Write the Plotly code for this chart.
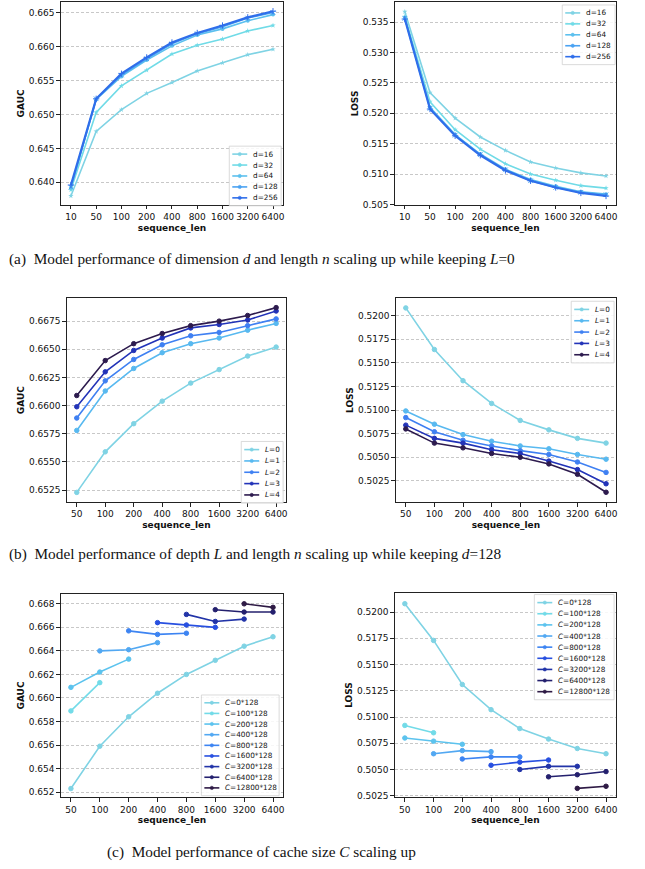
import plotly.graph_objects as go

W, H = 645, 869

# ---------------- data ----------------
seq_a = ["10", "50", "100", "200", "400", "800", "1600", "3200", "6400"]
seq_bc = ["50", "100", "200", "400", "800", "1600", "3200", "6400"]

d_labels = ["d=16", "d=32", "d=64", "d=128", "d=256"]
d_gauc = [
    [0.6380, 0.6475, 0.6507, 0.6531, 0.6547, 0.6564, 0.6576, 0.6588, 0.6596],
    [0.6389, 0.6503, 0.6542, 0.6565, 0.6589, 0.6602, 0.6611, 0.6623, 0.6631],
    [0.6392, 0.6522, 0.6556, 0.6580, 0.6601, 0.6617, 0.6626, 0.6638, 0.6647],
    [0.6393, 0.6523, 0.6558, 0.6582, 0.6604, 0.6619, 0.6629, 0.6642, 0.6650],
    [0.6396, 0.6523, 0.6560, 0.6584, 0.6606, 0.6620, 0.6631, 0.6643, 0.6652],
]
d_loss = [
    [0.5367, 0.5234, 0.5192, 0.5161, 0.5139, 0.5120, 0.5110, 0.5102, 0.5097],
    [0.5359, 0.5219, 0.5173, 0.5141, 0.5117, 0.5100, 0.5090, 0.5081, 0.5077],
    [0.5357, 0.5210, 0.5165, 0.5133, 0.5108, 0.5091, 0.5080, 0.5071, 0.5067],
    [0.5356, 0.5208, 0.5164, 0.5132, 0.5107, 0.5089, 0.5078, 0.5070, 0.5066],
    [0.5355, 0.5207, 0.5163, 0.5131, 0.5106, 0.5089, 0.5078, 0.5069, 0.5064],
]

l_labels = ["<i>L</i>=0", "<i>L</i>=1", "<i>L</i>=2", "<i>L</i>=3", "<i>L</i>=4"]
l_gauc = [
    [0.6523, 0.6559, 0.6584, 0.6604, 0.6620, 0.6632, 0.6644, 0.6652],
    [0.6578, 0.6613, 0.6633, 0.6647, 0.6655, 0.6660, 0.6667, 0.6673],
    [0.6589, 0.6622, 0.6641, 0.6654, 0.6662, 0.6665, 0.6671, 0.6677],
    [0.6599, 0.6630, 0.6649, 0.6660, 0.6669, 0.6672, 0.6676, 0.6684],
    [0.6609, 0.6640, 0.6655, 0.6664, 0.6671, 0.6675, 0.6680, 0.6687],
]
l_loss = [
    [0.5208, 0.5164, 0.5131, 0.5107, 0.5089, 0.5079, 0.5070, 0.5065],
    [0.5099, 0.5085, 0.5074, 0.5067, 0.5062, 0.5059, 0.5053, 0.5048],
    [0.5092, 0.5077, 0.5068, 0.5062, 0.5057, 0.5053, 0.5045, 0.5034],
    [0.5084, 0.5070, 0.5065, 0.5058, 0.5054, 0.5046, 0.5037, 0.5022],
    [0.5080, 0.5065, 0.5060, 0.5054, 0.5050, 0.5043, 0.5032, 0.5013],
]

c_labels = ["<i>C</i>=0*128", "<i>C</i>=100*128", "<i>C</i>=200*128", "<i>C</i>=400*128",
            "<i>C</i>=800*128", "<i>C</i>=1600*128", "<i>C</i>=3200*128",
            "<i>C</i>=6400*128", "<i>C</i>=12800*128"]
c_start = [0, 0, 0, 1, 2, 3, 4, 5, 6]   # first sequence_len index of each series
c_gauc = [
    [0.6523, 0.6559, 0.6584, 0.6604, 0.6620, 0.6632, 0.6644, 0.6652],
    [0.6589, 0.6613],
    [0.6609, 0.6622, 0.6633],
    [0.6640, 0.6641, 0.6647],
    [0.6657, 0.6654, 0.6655],
    [0.6664, 0.6662, 0.6660],
    [0.6671, 0.6665, 0.6667],
    [0.6675, 0.6673, 0.6673],
    [0.6680, 0.6677],
]
c_loss = [
    [0.5208, 0.5173, 0.5131, 0.5107, 0.5089, 0.5079, 0.5070, 0.5065],
    [0.5092, 0.5085],
    [0.5080, 0.5077, 0.5074],
    [0.5065, 0.5068, 0.5067],
    [0.5060, 0.5062, 0.5062],
    [0.5054, 0.5057, 0.5059],
    [0.5050, 0.5053, 0.5053],
    [0.5043, 0.5045, 0.5048],
    [0.5032, 0.5034],
]

# ---------------- styles ----------------
d_colors = ["#7fd3e4", "#70dbe7", "#5cc0ee", "#4aa2f2", "#2f6eea"]
d_symbols = ["star", "star", "circle", "x-thin", "cross-thin"]
d_msizes = [4, 4, 4, 4.5, 4.5]
l_colors = ["#7fd3e4", "#58b9f0", "#3f80f2", "#2233b8", "#2d1b4e"]
c_colors = ["#7fd3e4", "#72dbe8", "#5cc3ee", "#52a8f2", "#3d84f2",
            "#2850e0", "#2234a8", "#24206e", "#2e1a45"]

FONT = "DejaVu Sans"
SERIF = "Liberation Serif"

def X(px):
    return px / W

def Y(py):
    return 1 - py / H

# panel frames in pixels: (left, right, top, bottom)
frames = [
    (61, 284, 2, 206), (396, 618, 2, 206),
    (67, 287, 300, 505), (397, 618, 300, 505),
    (61, 284, 597, 802), (396, 618, 596, 802),
]
yranges = [
    [0.63669, 0.66656], [0.50495, 0.5383],
    [0.65144, 0.66953], [0.50026, 0.52182],
    [0.65155, 0.66887], [0.50234, 0.52186],
]
ydticks = [0.005, 0.005, 0.0025, 0.0025, 0.002, 0.0025]
ytick0 = [0.640, 0.505, 0.6525, 0.5025, 0.652, 0.5025]
yfmt = [".3f", ".3f", ".4f", ".4f", ".3f", ".4f"]
ytitles = ["GAUC", "LOSS", "GAUC", "LOSS", "GAUC", "LOSS"]

fig = go.Figure()

def add_series(k, cats, ys, name, color, symbol, width=1.6, msize=4.5, mline=1):
    ax = "" if k == 1 else str(k)
    fig.add_trace(go.Scatter(
        x=cats, y=ys, name=name, mode="lines+markers",
        line=dict(color=color, width=width),
        marker=dict(color=color, size=msize, symbol=symbol,
                    line=dict(color=color, width=mline)),
        xaxis="x" + ax, yaxis="y" + ax, showlegend=False))

for i in range(5):
    ml = 0 if d_symbols[i] in ("star", "circle") else 1
    w = 2.2 if i == 4 else 1.6
    add_series(1, seq_a, d_gauc[i], d_labels[i], d_colors[i], d_symbols[i], w, d_msizes[i], ml)
    add_series(2, seq_a, d_loss[i], d_labels[i], d_colors[i], d_symbols[i], w, d_msizes[i], ml)
for i in range(5):
    add_series(3, seq_bc, l_gauc[i], l_labels[i], l_colors[i], "circle")
    add_series(4, seq_bc, l_loss[i], l_labels[i], l_colors[i], "circle")
for i in range(9):
    cats = seq_bc[c_start[i]:c_start[i] + len(c_gauc[i])]
    add_series(5, cats, c_gauc[i], c_labels[i], c_colors[i], "circle")
    add_series(6, cats, c_loss[i], c_labels[i], c_colors[i], "circle")

layout = dict(
    width=W, height=H, margin=dict(l=0, r=0, t=0, b=0),
    paper_bgcolor="white", plot_bgcolor="white", showlegend=False,
    font=dict(family=FONT, size=9, color="#111"),
)
for k in range(1, 7):
    l, r, t, b = frames[k - 1]
    ax = "" if k == 1 else str(k)
    cats = seq_a if k <= 2 else seq_bc
    n = len(cats)
    pad = 0.05 * (n - 1)
    layout["xaxis" + ax] = dict(
        domain=[X(l), X(r)], anchor="y" + ax, type="category",
        categoryorder="array", categoryarray=cats,
        range=[-pad, n - 1 + pad], showgrid=False, zeroline=False,
        showline=True, linecolor="#222", linewidth=1, mirror=True,
        ticks="outside", ticklen=3.5, tickcolor="#222", tickangle=0,
        tickfont=dict(family=FONT, size=9, color="#111"),
        title=dict(text="<b>sequence_len</b>", font=dict(family=FONT, size=9, color="#111"), standoff=3),
    )
    layout["yaxis" + ax] = dict(
        domain=[Y(b), Y(t)], anchor="x" + ax, range=yranges[k - 1],
        tick0=ytick0[k - 1], dtick=ydticks[k - 1], tickformat=yfmt[k - 1],
        showgrid=True, gridcolor="#c8c8c8", griddash="3px,2px", gridwidth=0.8,
        zeroline=False, showline=True, linecolor="#222", linewidth=1, mirror=True,
        ticks="outside", ticklen=3.5, tickcolor="#222",
        tickfont=dict(family=FONT, size=9, color="#111"),
        title=dict(text="<b>" + ytitles[k - 1] + "</b>", font=dict(family=FONT, size=9, color="#111"),
                   standoff=2),
    )
fig.update_layout(**layout)

# ---------------- hand-made compact legends ----------------
shapes, annos = [], []

def legend(left, top, width, labels, colors, row=11, pad=2.5):
    n = len(labels)
    height = 2 * pad + n * row
    shapes.append(dict(type="rect", xref="paper", yref="paper",
                       x0=X(left), x1=X(left + width), y0=Y(top + height), y1=Y(top),
                       line=dict(color="#d0d0d0", width=0.8), fillcolor="rgba(255,255,255,0.85)",
                       layer="above"))
    for i, (lab, col) in enumerate(zip(labels, colors)):
        yc = top + pad + row * (i + 0.5)
        shapes.append(dict(type="line", xref="paper", yref="paper",
                           x0=X(left + 3), x1=X(left + 18), y0=Y(yc), y1=Y(yc),
                           line=dict(color=col, width=1.6), layer="above"))
        shapes.append(dict(type="circle", xref="paper", yref="paper",
                           x0=X(left + 8.8), x1=X(left + 12.2), y0=Y(yc + 1.7), y1=Y(yc - 1.7),
                           line=dict(color=col, width=0.5), fillcolor=col, layer="above"))
        annos.append(dict(text=lab, xref="paper", yref="paper", x=X(left + 22), y=Y(yc),
                          xanchor="left", yanchor="middle", showarrow=False,
                          font=dict(family=FONT, size=7.3, color="#111")))

legend(230, 147, 52, d_labels, d_colors)
legend(564, 5, 53, d_labels, d_colors)
legend(242, 444, 42, l_labels, l_colors, row=11.4)
legend(573, 303, 43, l_labels, l_colors, row=11.4)
legend(202, 699, 78, c_labels, c_colors, row=10.7)
legend(536, 598, 80, c_labels, c_colors, row=11.2)

# ---------------- captions ----------------
captions = [
    ("(a)  Model performance of dimension <i>d</i> and length <i>n</i> scaling up while keeping <i>L</i>=0", 7, 261),
    ("(b)  Model performance of depth <i>L</i> and length <i>n</i> scaling up while keeping <i>d</i>=128", 7, 557),
    ("(c)  Model performance of cache size <i>C</i> scaling up", 105, 857),
]
for txt, lx, cy in captions:
    annos.append(dict(text=txt, xref="paper", yref="paper", x=X(lx), y=Y(cy),
                      xanchor="left", yanchor="middle", showarrow=False,
                      font=dict(family=SERIF, size=15.3, color="#111")))

fig.update_layout(shapes=shapes, annotations=annos)
fig.write_html("out.html", config={"displayModeBar": False},
               post_script="document.body.style.margin='0';document.body.style.overflow='hidden';")
